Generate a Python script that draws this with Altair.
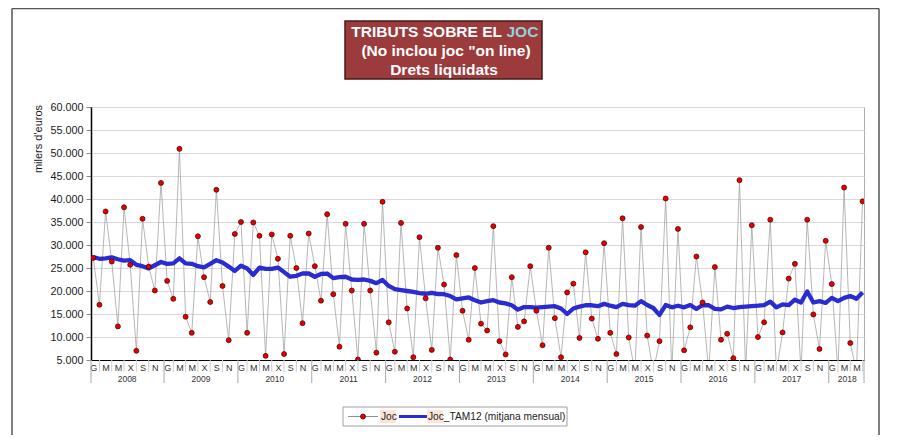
import altair as alt
import pandas as pd

# ---------------- data ----------------
MONTH_LETTERS = ["G", "F", "M", "A", "M", "J", "X", "A", "S", "O", "N", "D"]
YEARS = [2008, 2009, 2010, 2011, 2012, 2013, 2014, 2015, 2016, 2017, 2018]
MONTHS_PER_YEAR = [12, 12, 12, 12, 12, 12, 12, 12, 12, 12, 6]

# Joc (milers d'euros), gener 2008 - juny 2018
JOC = [
    27200, 17000, 37300, 26400, 12300, 38200, 25700, 7000, 35700, 25300, 20100, 43500,
    22200, 18300, 50900, 14400, 10900, 31900, 23000, 17600, 42000, 21100, 9300, 32400,
    35000, 10900, 34900, 32000, 5900, 32300, 27000, 6300, 32000, 25000, 13000, 32500,
    25400, 17900, 36700, 19300, 7900, 34600, 20100, 5100, 34600, 20100, 6600, 39400,
    13200, 6800, 34800, 16200, 5600, 31700, 18400, 7200, 29400, 21400, 5100, 27800,
    15700, 9400, 25000, 12900, 11400, 34100, 9100, 6200, 23000, 12200, 13400, 25400,
    15700, 8200, 29400, 14100, 5600, 19700, 21600, 9800, 28400, 14000, 9600, 30400,
    10900, 6300, 35800, 9900, 2500, 33900, 10300, 2500, 9100, 40100, 2500, 33500,
    7100, 12100, 27500, 17500, 2500, 25200, 9400, 10700, 5400, 44100, 2500, 34300,
    10000, 13200, 35500, 2500, 11000, 22700, 25900, 2500, 35500, 14900, 7400, 30900,
    21500, 2500, 42500, 8700, 2500, 39500,
]

# Joc_TAM12 (mitjana mensual)
TAM12 = [
    27400, 27000, 27100, 27300, 26900, 26600, 26700, 25700, 25400, 24900, 25600, 26300,
    25900, 26000, 27100, 26000, 25900, 25400, 25150, 25900, 26700, 26200, 25300, 24350,
    25500, 24900, 23500, 25100, 24800, 24800, 25100, 24100, 23100, 23300, 23800, 23800,
    23100, 23700, 23800, 22800, 23000, 23100, 22500, 22400, 22500, 22200, 21700, 22400,
    21100, 20400, 20200, 20000, 19800, 19550, 19400, 19600, 19300, 19300, 18900, 18200,
    18400, 18600, 18000, 17500, 17800, 18000, 17500, 17300, 16900, 15950, 16500, 16500,
    16400, 16500, 16600, 16700, 16200, 15000, 16200, 16600, 16900, 16900, 16700, 17200,
    16800, 16500, 17200, 16950, 16800, 17800, 16950, 16300, 14800, 16950, 16450, 16800,
    16450, 16950, 16100, 16950, 16900, 16100, 16000, 16600, 16300, 16500, 16600, 16700,
    16800, 16950, 17700, 16450, 17100, 16950, 18100, 17500, 19900, 17500, 17800, 17400,
    18500, 17800, 18500, 18900, 18300, 19700,
]

Y_TICKS = list(range(5000, 60001, 5000))

# ---------------- derived tables ----------------
df = pd.DataFrame({"m": list(range(len(JOC))), "joc": JOC, "tam": TAM12})

starts, centers = [], []
acc = 0
for n in MONTHS_PER_YEAR:
    starts.append(acc)
    centers.append(acc + (n - 1) / 2)
    acc += n
years_df = pd.DataFrame({"year": [str(y) for y in YEARS], "c": centers})

X_MIN, X_MAX = -0.37, len(JOC) - 1 + 0.23
year_sep = pd.DataFrame({"s": [X_MIN] + [s - 0.5 for s in starts[1:]] + [X_MAX]})
month_sep = pd.DataFrame({"s": [m for m in range(1, len(JOC), 2) if m % 12 != 11]})

W, H = 773, 253
FONT = "Liberation Sans"
RED = "#E60000"
GRAY_LINE = "#A3A3A3"
BLUE = "#2B2BD2"

xs = alt.Scale(domain=[X_MIN, X_MAX], nice=False, zero=False)
ys = alt.Scale(domain=[5000, 60000], nice=False, zero=False)

letters_js = "[" + ",".join("'%s'" % l for l in MONTH_LETTERS) + "]"
xaxis = alt.Axis(
    values=list(range(0, len(JOC), 2)),
    labelExpr=letters_js + "[datum.value % 12]",
    grid=False, ticks=False, domainColor="#000000", domainWidth=1.2,
    labelFont=FONT, labelFontSize=9, labelColor="#333333", labelPadding=3,
    labelOverlap=False, labelFlush=False, title=None,
)
yaxis = alt.Axis(
    values=Y_TICKS,
    labelExpr="replace(format(datum.value, ','), ',', '.')",
    grid=True, gridColor="#D9D9D9", gridWidth=1,
    tickSize=5, tickColor="#888888", domainColor="#000000", domainWidth=1.5,
    labelFont=FONT, labelFontSize=10.8, labelColor="#1a1a1a", labelPadding=3,
    title=None,
)

base = alt.Chart(df)
joc_line = base.mark_line(color=GRAY_LINE, strokeWidth=0.8, clip=True).encode(
    x=alt.X("m:Q", scale=xs, axis=xaxis),
    y=alt.Y("joc:Q", scale=ys, axis=yaxis),
)
tam_line = base.mark_line(color=BLUE, strokeWidth=4.3, clip=True, strokeJoin="round").encode(
    x=alt.X("m:Q", scale=xs, axis=xaxis),
    y=alt.Y("tam:Q", scale=ys, axis=yaxis),
)
joc_pts = base.mark_circle(size=25, color=RED, stroke="#3d0000", strokeWidth=0.7,
                           opacity=1, clip=True).encode(
    x=alt.X("m:Q", scale=xs, axis=xaxis),
    y=alt.Y("joc:Q", scale=ys, axis=yaxis),
)

ysep = alt.Chart(year_sep).mark_rule(color="#A8A8A8", strokeWidth=1).encode(
    x=alt.X("s:Q", scale=xs, axis=xaxis), y=alt.value(H), y2=alt.value(H + 23)
)
msep = alt.Chart(month_sep).mark_rule(color="#CFCFCF", strokeWidth=1).encode(
    x=alt.X("s:Q", scale=xs, axis=xaxis), y=alt.value(H), y2=alt.value(H + 12)
)
ylabels = alt.Chart(years_df).mark_text(font=FONT, fontSize=8.5, color="#333333",
                                        baseline="middle").encode(
    x=alt.X("c:Q", scale=xs, axis=xaxis), y=alt.value(H + 19), text="year:N"
)

one = alt.Data(values=[{"k": 0}])

ytitle = alt.Chart(one).mark_text(text="milers d'euros", angle=270, font=FONT, fontSize=11,
                                  color="#1a1a1a", baseline="middle", align="center").encode(
    x=alt.value(-52), y=alt.value(32)
)

# title box
tbox = alt.Chart(one).mark_rect(fill="#9C3B3B", stroke="#4a1818", strokeWidth=1.5).encode(
    x=alt.value(254), x2=alt.value(451), y=alt.value(-86), y2=alt.value(-28)
)
t1a = alt.Chart(one).mark_text(text="TRIBUTS SOBRE EL", align="right", baseline="middle",
                               font=FONT, fontSize=15.5, fontWeight="bold", color="#FFFFFF").encode(
    x=alt.value(411), y=alt.value(-75.5)
)
t1b = alt.Chart(one).mark_text(text="JOC", align="left", baseline="middle",
                               font=FONT, fontSize=15.5, fontWeight="bold", color="#93D2DC").encode(
    x=alt.value(415.5), y=alt.value(-75.5)
)
t2 = alt.Chart(one).mark_text(text='(No inclou joc "on line)', align="center", baseline="middle",
                              font=FONT, fontSize=15.5, fontWeight="bold", color="#FFFFFF").encode(
    x=alt.value(355), y=alt.value(-56)
)
t3 = alt.Chart(one).mark_text(text="Drets liquidats", align="center", baseline="middle",
                              font=FONT, fontSize=15.5, fontWeight="bold", color="#FFFFFF").encode(
    x=alt.value(353), y=alt.value(-37)
)

# legend
LY = 309.5
lbox = alt.Chart(one).mark_rect(fill="#FFFFFF", stroke="#A0A0A0", strokeWidth=1).encode(
    x=alt.value(252), x2=alt.value(476), y=alt.value(300), y2=alt.value(319)
)
hl1 = alt.Chart(one).mark_rect(fill="#FCE4D6").encode(
    x=alt.value(289), x2=alt.value(305), y=alt.value(303), y2=alt.value(316)
)
hl2 = alt.Chart(one).mark_rect(fill="#FCE4D6").encode(
    x=alt.value(336), x2=alt.value(352), y=alt.value(303), y2=alt.value(316)
)
l1 = alt.Chart(one).mark_rule(color="#8f8f8f", strokeWidth=1).encode(
    x=alt.value(257), x2=alt.value(287), y=alt.value(LY)
)
l1p = alt.Chart(one).mark_circle(size=25, color=RED, stroke="#3d0000", strokeWidth=0.7,
                                 opacity=1).encode(x=alt.value(272), y=alt.value(LY))
l1t = alt.Chart(one).mark_text(text="Joc", align="left", baseline="middle", font=FONT,
                               fontSize=10.2, color="#222222").encode(
    x=alt.value(290), y=alt.value(LY)
)
l2 = alt.Chart(one).mark_rule(color=BLUE, strokeWidth=3).encode(
    x=alt.value(308), x2=alt.value(336), y=alt.value(LY)
)
l2t = alt.Chart(one).mark_text(text="Joc_TAM12 (mitjana mensual)", align="left", baseline="middle",
                               font=FONT, fontSize=10.2, color="#222222").encode(
    x=alt.value(337), y=alt.value(LY)
)

# outer frame
frame_l = alt.Chart(one).mark_rule(color="#555555", strokeWidth=1.5).encode(
    x=alt.value(-79), y=alt.value(-98.5), y2=alt.value(H + 80)
)
frame_r = alt.Chart(one).mark_rule(color="#555555", strokeWidth=1.5).encode(
    x=alt.value(788), y=alt.value(-98.5), y2=alt.value(H + 80)
)
frame_t = alt.Chart(one).mark_rule(color="#555555", strokeWidth=1.5).encode(
    x=alt.value(-79), x2=alt.value(788), y=alt.value(-98.5)
)

chart = alt.layer(
    joc_line, tam_line, joc_pts, ysep, msep, ylabels, ytitle,
    tbox, t1a, t1b, t2, t3,
    lbox, hl1, hl2, l1, l1p, l1t, l2, l2t,
    frame_l, frame_r, frame_t,
).properties(
    width=W, height=H,
    padding={"left": 83, "top": 99, "right": 20, "bottom": 75},
    autosize=alt.AutoSizeParams(type="none"),
    background="#FFFFFF",
).configure_view(stroke="#B0B0B0", strokeWidth=1)

chart.save("out.html", embed_options={"renderer": "svg", "actions": False})
